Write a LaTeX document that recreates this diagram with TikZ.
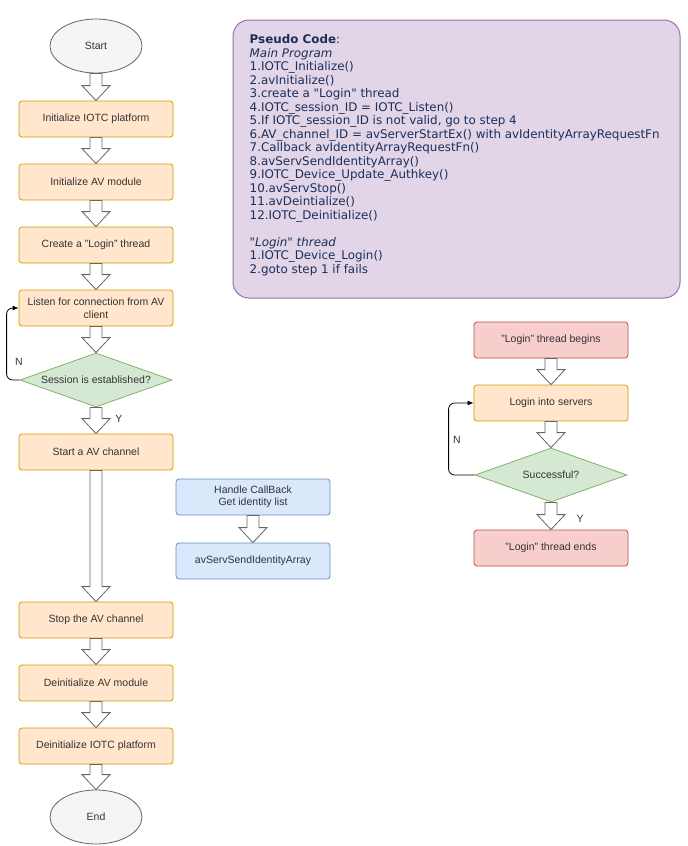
\documentclass[tikz,border=0pt]{standalone}
\usepackage{fontspec}
\setmainfont{Liberation Sans}
\newfontfamily\pcfont{DejaVu Sans}
\usetikzlibrary{shapes.geometric,calc,arrows.meta}
\definecolor{orfill}{HTML}{FFE6CC}\definecolor{ordraw}{HTML}{D79B00}
\definecolor{grfill}{HTML}{D5E8D4}\definecolor{grdraw}{HTML}{82B366}
\definecolor{rdfill}{HTML}{F8CECC}\definecolor{rddraw}{HTML}{B85450}
\definecolor{blfill}{HTML}{DAE8FC}\definecolor{bldraw}{HTML}{6C8EBF}
\definecolor{elfill}{HTML}{F5F5F5}\definecolor{eldraw}{HTML}{666666}
\definecolor{pufill}{HTML}{E1D5E7}\definecolor{pudraw}{HTML}{9673A6}
\definecolor{txt}{HTML}{333333}\definecolor{pctxt}{HTML}{1B2F5C}
\tikzset{
  base/.style={font=\fontsize{10.5pt}{12.5pt}\selectfont, text=txt, align=center, line width=0.8pt},
  obox/.style={base, rectangle, rounded corners=3pt, minimum width=154pt, minimum height=36pt, inner sep=0pt, fill=orfill, draw=ordraw},
  rbox/.style={obox, fill=rdfill, draw=rddraw},
  bbox/.style={obox, fill=blfill, draw=bldraw},
  dec/.style={base, diamond, aspect=2.8, minimum width=152pt, minimum height=54pt, inner sep=0pt, fill=grfill, draw=grdraw},
  term/.style={base, ellipse, minimum width=92pt, minimum height=54pt, inner sep=0pt, fill=elfill, draw=eldraw},
  blk/.style={fill=white, draw=eldraw, line width=0.8pt, line join=miter},
  loopline/.style={line width=0.8pt, rounded corners=6pt, -{Latex[length=6pt,width=5pt]}},
  lbl/.style={base, inner sep=0pt},
}
\newcommand\blkarrow[2]{\draw[blk] let \p1=(#1.south), \p2=(#2.north) in
  (\x1-6pt,\y1) -- (\x1+6pt,\y1) -- (\x1+6pt,\y2+15pt) -- (\x1+14pt,\y2+15pt) -- (\x1,\y2) -- (\x1-14pt,\y2+15pt) -- (\x1-6pt,\y2+15pt) -- cycle;}
\begin{document}
\begin{tikzpicture}[x=1pt,y=-1pt]
\useasboundingbox[fill=white] (0,0) rectangle (688,846);
% main flow
\node[term] (start) at (96,46) {Start};
\node[obox] (initiotc) at (96,119) {Initialize IOTC platform};
\node[obox] (initav) at (96,182) {Initialize AV module};
\node[obox] (create) at (96,245) {Create a "Login" thread};
\node[obox] (listen) at (96,308) {Listen for connection from AV\\client};
\node[dec] (sess) at (96,380) {Session is established?};
\node[obox] (startav) at (96,452) {Start a AV channel};
\node[obox] (stopav) at (96,620) {Stop the AV channel};
\node[obox] (deinitav) at (96,683) {Deinitialize AV module};
\node[obox] (deinitiotc) at (96,746) {Deinitialize IOTC platform};
\node[term] (end) at (96,817) {End};
\blkarrow{start}{initiotc}
\blkarrow{initiotc}{initav}
\blkarrow{initav}{create}
\blkarrow{create}{listen}
\blkarrow{listen}{sess}
\blkarrow{sess}{startav}
\blkarrow{startav}{stopav}
\blkarrow{stopav}{deinitav}
\blkarrow{deinitav}{deinitiotc}
\blkarrow{deinitiotc}{end}
\draw[loopline] (sess.west) -- ++(-13,0) |- (listen.west);
\node[lbl] (n1) at (19,362) {N};
\node[lbl] (y1) at (119,419) {Y};
% callback
\node[bbox] (handle) at (253,497) {Handle CallBack\\Get identity list};
\node[bbox] (send) at (253,561) {avServSendIdentityArray};
\blkarrow{handle}{send}
% login thread
\node[rbox] (lbegin) at (551,340) {"Login" thread begins};
\node[obox] (login) at (551,403) {Login into servers};
\node[dec] (succ) at (551,475) {Successful?};
\node[rbox] (lend) at (551,548) {"Login" thread ends};
\blkarrow{lbegin}{login}
\blkarrow{login}{succ}
\blkarrow{succ}{lend}
\draw[loopline] (succ.west) -- ++(-26,0) |- (login.west);
\node[lbl] (n2) at (457,440) {N};
\node[lbl] (y2) at (580,519) {Y};
% pseudo code
\node[rectangle, rounded corners=16pt, fill=pufill, draw=pudraw, line width=1pt, minimum width=447pt, minimum height=278pt] (pc) at (456.5,159) {};
\node[anchor=north west, align=left, inner sep=0pt, text=pctxt, font=\pcfont\fontsize{11.9pt}{13.5pt}\selectfont] (pctext) at ([xshift=17pt,yshift=-15pt]pc.north west) {%
\textbf{Pseudo Code}:\\
\textit{Main Program}\\
1.IOTC\_Initialize()\\
2.avInitialize()\\
3.create a "Login" thread\\
4.IOTC\_session\_ID = IOTC\_Listen()\\
5.If IOTC\_session\_ID is not valid, go to step 4\\
6.AV\_channel\_ID = avServerStartEx() with avIdentityArrayRequestFn\\
7.Callback avIdentityArrayRequestFn()\\
8.avServSendIdentityArray()\\
9.IOTC\_Device\_Update\_Authkey()\\
10.avServStop()\\
11.avDeintialize()\\
12.IOTC\_Deinitialize()\\[13.5pt]
\textit{"Login" thread}\\
1.IOTC\_Device\_Login()\\
2.goto step 1 if fails};
\end{tikzpicture}
\end{document}
